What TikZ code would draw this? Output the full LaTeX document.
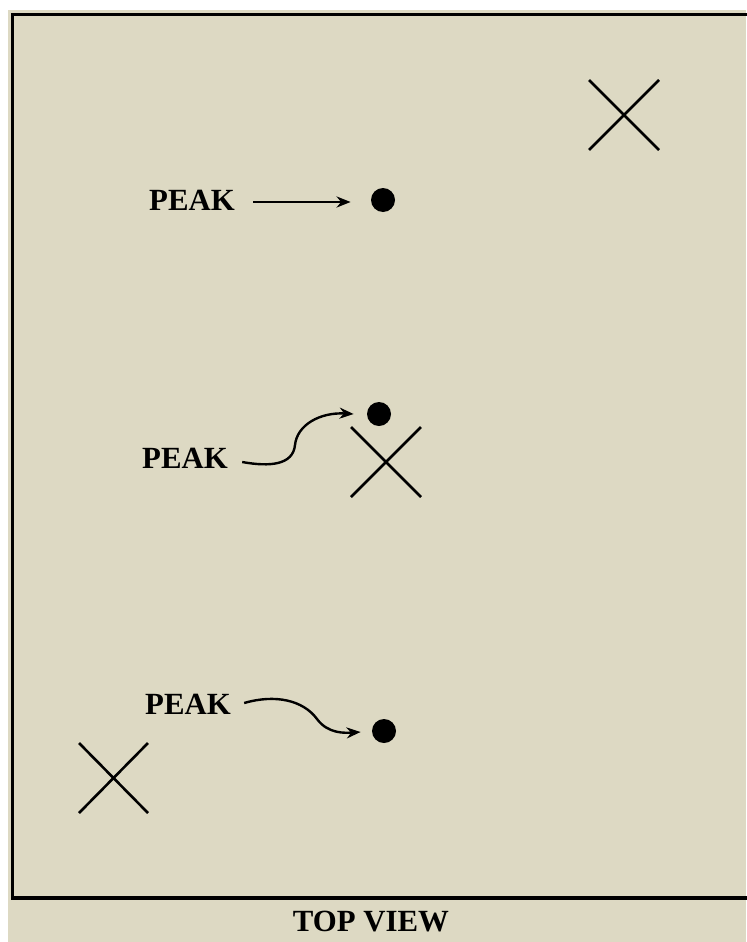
\documentclass[tikz,border=0pt]{standalone}
\usepackage{fontspec}
\setmainfont{Liberation Serif}
\usetikzlibrary{arrows.meta}
\definecolor{bgtan}{RGB}{221,217,195}
\tikzset{
  >={Stealth[length=7pt,width=5.5pt]},
  peaklabel/.style={font=\fontsize{15.4}{18}\selectfont\bfseries,inner sep=0pt},
  peakdot/.style={circle,fill=black,inner sep=0pt,minimum size=12pt},
}
\begin{document}
\begin{tikzpicture}[x=0.5pt,y=-0.5pt]
\useasboundingbox (0,0) rectangle (746,942);
\fill[bgtan] (8,10) rectangle (746,942);
\draw[line width=1.8pt] (760,14.5) -- (12.5,14.5) -- (12.5,898) -- (760,898);

% crosses
\draw[line width=1.3pt] (589,80) -- (659,150);
\draw[line width=1.3pt] (589,150) -- (659,80);
\draw[line width=1.3pt] (351,427) -- (421,497);
\draw[line width=1.3pt] (351,497) -- (421,427);
\draw[line width=1.3pt] (79,743) -- (148,813);
\draw[line width=1.3pt] (79,813) -- (148,743);

% peaks
\node[peakdot] (dota) at (383,200) {};
\node[peakdot] (dotb) at (379,414) {};
\node[peakdot] (dotc) at (384,731) {};
\node[peaklabel] (peaka) at (192,200) {PEAK};
\node[peaklabel] (peakb) at (185,458) {PEAK};
\node[peaklabel] (peakc) at (188,704) {PEAK};

\draw[->,line width=1.2pt] ([shift={(18,2)}]peaka.east) -- ([shift={(-20,2)}]dota.west);
\draw[->,line width=1.2pt] ([shift={(14,4)}]peakb.east) .. controls (270,467) and (293,465) .. (295,445)
  .. controls (297,425) and (320,412) .. ([shift={(-13,0)}]dotb.west);
\draw[->,line width=1.2pt] ([shift={(13,-1)}]peakc.east) .. controls (275,694) and (303,700) .. (317,719)
  .. controls (328,734) and (345,733) .. ([shift={(-11,1)}]dotc.west);

\node[peaklabel] (topview) at (371,922) {TOP VIEW};
\end{tikzpicture}
\end{document}
